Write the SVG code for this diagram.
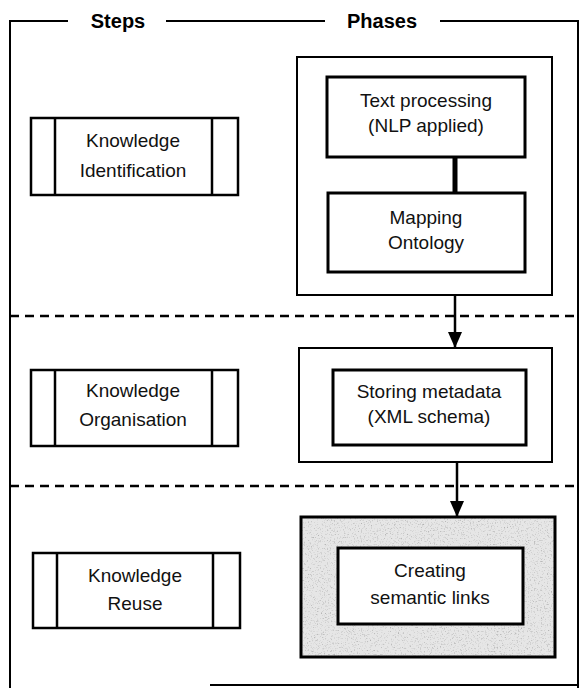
<svg xmlns="http://www.w3.org/2000/svg" width="581" height="688" viewBox="0 0 581 688">
  <style>
    .frame { fill: none; stroke: #000; stroke-width: 2; }
    .sep { fill: none; stroke: #000; stroke-width: 2.5; stroke-dasharray: 9 6; }
    .step { fill: #fff; stroke: #000; stroke-width: 2.5; }
    .bar { stroke: #000; stroke-width: 2.5; }
    .outer { fill: #fff; stroke: #000; stroke-width: 2; }
    .inner { fill: #fff; stroke: #000; stroke-width: 3; }
    .head { font-family: "Liberation Sans", Arial, sans-serif; font-weight: bold; font-size: 20px; fill: #000; text-anchor: middle; }
    .lbl { font-family: "Liberation Sans", Arial, sans-serif; font-size: 19px; fill: #111; text-anchor: middle; }
    .conn { stroke: #000; stroke-width: 2.5; fill: none; }
  </style>
  <defs>
    <!-- filled triangular head, pointing along the line direction -->
    <marker id="arrow" markerWidth="16" markerHeight="14" refX="16" refY="7" orient="auto" markerUnits="userSpaceOnUse" viewBox="0 0 16 14">
      <path d="M0,0 L16,7 L0,14 Z" fill="#000"/>
    </marker>
    <!-- speckled grey shading -->
    <filter id="grain" x="0" y="0" width="100%" height="100%">
      <feTurbulence type="fractalNoise" baseFrequency="0.7" numOctaves="3" seed="11" result="n"/>
      <feColorMatrix in="n" type="matrix" values="0 0 0 0 0.45  0 0 0 0 0.45  0 0 0 0 0.45  0 0 0 -3 1.35"/>
    </filter>
  </defs>

  <!-- outer frame with column headings -->
  <g id="frame">
    <path class="frame" d="M10,688 V21 H68 M166,21 H325 M440,21 H578 V688"/>
    <path class="frame" d="M210,685 H578" stroke="#444"/>
    <text class="head" x="118" y="28">Steps</text>
    <text class="head" x="382" y="28">Phases</text>
  </g>

  <!-- band separators -->
  <g id="separators">
    <line class="sep" x1="10" y1="316" x2="578" y2="316"/>
    <line class="sep" x1="10" y1="486" x2="578" y2="486"/>
  </g>

  <!-- steps column -->
  <g id="step-identification">
    <rect class="step" x="31" y="118" width="207" height="77"/>
    <line class="bar" x1="55" y1="118" x2="55" y2="195"/>
    <line class="bar" x1="212" y1="118" x2="212" y2="195"/>
    <text class="lbl" x="133" y="147">Knowledge</text>
    <text class="lbl" x="133" y="177">Identification</text>
  </g>
  <g id="step-organisation">
    <rect class="step" x="31" y="370" width="207" height="76"/>
    <line class="bar" x1="55" y1="370" x2="55" y2="446"/>
    <line class="bar" x1="212" y1="370" x2="212" y2="446"/>
    <text class="lbl" x="133" y="397">Knowledge</text>
    <text class="lbl" x="133" y="426">Organisation</text>
  </g>
  <g id="step-reuse">
    <rect class="step" x="33" y="553" width="207" height="75"/>
    <line class="bar" x1="57" y1="553" x2="57" y2="628"/>
    <line class="bar" x1="213" y1="553" x2="213" y2="628"/>
    <text class="lbl" x="135" y="582">Knowledge</text>
    <text class="lbl" x="135" y="610">Reuse</text>
  </g>

  <!-- phases column -->
  <g id="phase-identification">
    <rect class="outer" x="297" y="57" width="255" height="238"/>
  </g>
  <g id="text-processing">
    <rect class="inner" x="327" y="77" width="198" height="80"/>
    <text class="lbl" x="426" y="107">Text processing</text>
    <text class="lbl" x="426" y="132">(NLP applied)</text>
  </g>
  <g id="mapping-ontology">
    <rect class="inner" x="328" y="193" width="197" height="79"/>
    <text class="lbl" x="426" y="224">Mapping</text>
    <text class="lbl" x="426" y="249">Ontology</text>
  </g>

  <g id="phase-organisation">
    <rect class="outer" x="299" y="348" width="253" height="114"/>
  </g>
  <g id="storing-metadata">
    <rect class="inner" x="333" y="370" width="193" height="75"/>
    <text class="lbl" x="429" y="398">Storing metadata</text>
    <text class="lbl" x="429" y="423">(XML schema)</text>
  </g>

  <g id="phase-reuse">
    <rect x="301" y="517" width="254" height="140" fill="#e6e6e6"/>
    <rect x="301" y="517" width="254" height="140" filter="url(#grain)"/>
    <rect x="301" y="517" width="254" height="140" fill="none" stroke="#000" stroke-width="3"/>
  </g>
  <g id="creating-links">
    <rect class="inner" x="338" y="548" width="185" height="76"/>
    <text class="lbl" x="430" y="577">Creating</text>
    <text class="lbl" x="430" y="604">semantic links</text>
  </g>

  <!-- connectors -->
  <g id="connectors">
    <line x1="455" y1="157" x2="455" y2="193" stroke="#000" stroke-width="5"/>
    <line class="conn" x1="455" y1="295" x2="455" y2="348" marker-end="url(#arrow)"/>
    <line class="conn" x1="457" y1="462" x2="457" y2="517" marker-end="url(#arrow)"/>
  </g>
</svg>
